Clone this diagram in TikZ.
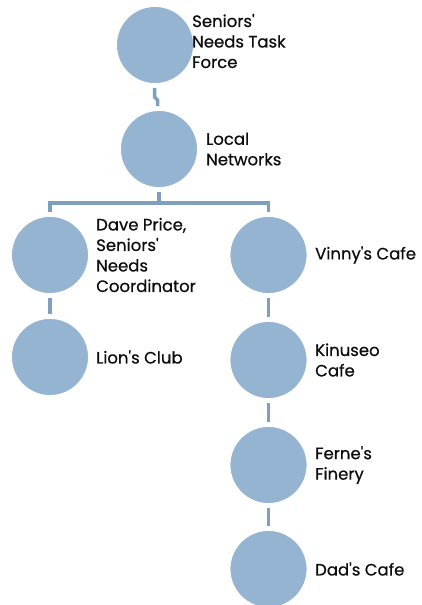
\documentclass[tikz,border=0pt]{standalone}
\usepackage{fontspec}
\setmainfont{Poppins}[Ligatures=TeXOff,FakeBold=0.6]
\definecolor{circfill}{HTML}{94B4D2}
\definecolor{linkcol}{HTML}{7F9FBF}
\definecolor{txtcol}{HTML}{0D0D0D}
\begin{document}
\begin{tikzpicture}[x=1pt,y=-1pt,
  bubble/.style={circle,fill=circfill,draw=white,line width=0.8pt,minimum size=77pt,inner sep=0pt},
  lbl/.style={anchor=west,align=left,text=txtcol,inner sep=0pt,font=\fontsize{16.5}{20.5}\selectfont},
  link/.style={draw=linkcol,line width=3.5pt}]
\useasboundingbox (0,0) rectangle (421,605);
\node[bubble] (c0) at (155,45) {};
\node[bubble] (c1) at (159,149) {};
\node[bubble] (c2) at (50,255) {};
\node[bubble] (c3) at (268.5,255) {};
\node[bubble] (c4) at (50,357) {};
\node[bubble] (c5) at (268.5,360) {};
\node[bubble] (c6) at (268.5,465) {};
\node[bubble] (c7) at (268.5,569) {};
\node[lbl] (t0) at (192,41) {Seniors'\\Needs Task\\Force};
\node[lbl] (t1) at (206,149) {Local\\Networks};
\node[lbl] (t2) at (96,255) {Dave Price,\\Seniors'\\Needs\\Coordinator};
\node[lbl] (t3) at (315,255) {Vinny's Cafe};
\node[lbl] (t4) at (96,357) {Lion's Club};
\node[lbl] (t5) at (315,360) {Kinuseo\\Cafe};
\node[lbl] (t6) at (315,465) {Ferne's\\Finery};
\node[lbl] (t7) at (315,569) {Dad's Cafe};
\coordinate (j1) at (154.5,97);
\coordinate (j2) at (157.5,100);
\coordinate (hb) at (159,203);
\coordinate (hl) at (50,203);
\coordinate (hr) at (268.5,203);
\draw[link] ([yshift=-4pt]c0.south -| j1) -- (j1) -- (j2) -- ([yshift=4pt]c1.north -| j2);
\draw[link] ([yshift=-4pt]c1.south) -- (hb);
\draw[link,line cap=rect] (hl) -- (hr);
\draw[link] (hl) -- ([yshift=4pt]c2.north);
\draw[link] (hr) -- ([yshift=4pt]c3.north);
\draw[link] ([yshift=-4pt]c2.south) -- ([yshift=4pt]c4.north);
\draw[link] ([yshift=-4pt]c3.south) -- ([yshift=4pt]c5.north);
\draw[link] ([yshift=-4pt]c5.south) -- ([yshift=4pt]c6.north);
\draw[link] ([yshift=-4pt]c6.south) -- ([yshift=4pt]c7.north);
\end{tikzpicture}
\end{document}
